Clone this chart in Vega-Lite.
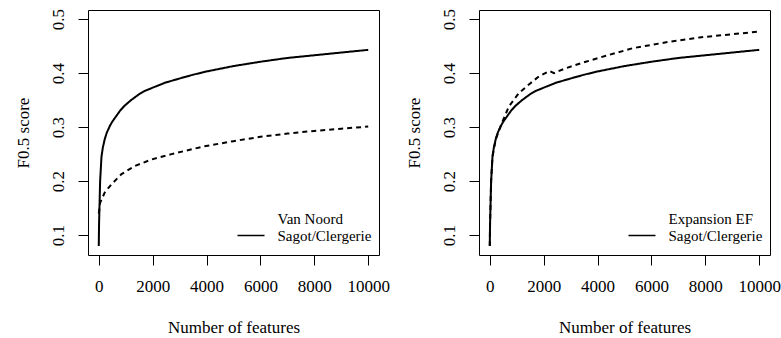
{
  "$schema": "https://vega.github.io/schema/vega-lite/v6.json",
  "background": "white",
  "padding": {"left": 13, "top": 7, "right": 0, "bottom": 0},
  "config": {
    "font": "Liberation Serif",
    "view": {"stroke": "black", "strokeWidth": 1},
    "concat": {"spacing": 100},
    "axis": {"domain": false, "grid": false, "tickColor": "black", "tickSize": 10, "tickWidth": 1, "labelColor": "black", "titleColor": "black", "labelFont": "Liberation Serif", "titleFont": "Liberation Serif", "labelFontSize": 17, "titleFontSize": 17, "titleFontWeight": "normal"},
    "legend": {"labelFont": "Liberation Serif", "labelFontSize": 15, "labelColor": "black", "padding": 0}
  },
  "bounds": "flush",
  "resolve": {"scale": {"strokeDash": "independent", "x": "independent", "y": "independent"}, "legend": {"strokeDash": "independent"}},
  "data": {"values": [
    {"panel": "A", "series": "Sagot/Clergerie", "n": 0, "f": 0.08},
    {"panel": "A", "series": "Sagot/Clergerie", "n": 10, "f": 0.12},
    {"panel": "A", "series": "Sagot/Clergerie", "n": 25, "f": 0.15},
    {"panel": "A", "series": "Sagot/Clergerie", "n": 50, "f": 0.2},
    {"panel": "A", "series": "Sagot/Clergerie", "n": 100, "f": 0.245},
    {"panel": "A", "series": "Sagot/Clergerie", "n": 150, "f": 0.262},
    {"panel": "A", "series": "Sagot/Clergerie", "n": 223, "f": 0.278},
    {"panel": "A", "series": "Sagot/Clergerie", "n": 300, "f": 0.29},
    {"panel": "A", "series": "Sagot/Clergerie", "n": 410, "f": 0.302},
    {"panel": "A", "series": "Sagot/Clergerie", "n": 500, "f": 0.31},
    {"panel": "A", "series": "Sagot/Clergerie", "n": 657, "f": 0.321},
    {"panel": "A", "series": "Sagot/Clergerie", "n": 800, "f": 0.331},
    {"panel": "A", "series": "Sagot/Clergerie", "n": 967, "f": 0.34},
    {"panel": "A", "series": "Sagot/Clergerie", "n": 1200, "f": 0.35},
    {"panel": "A", "series": "Sagot/Clergerie", "n": 1337, "f": 0.355},
    {"panel": "A", "series": "Sagot/Clergerie", "n": 1500, "f": 0.361},
    {"panel": "A", "series": "Sagot/Clergerie", "n": 1708, "f": 0.367},
    {"panel": "A", "series": "Sagot/Clergerie", "n": 2000, "f": 0.373},
    {"panel": "A", "series": "Sagot/Clergerie", "n": 2450, "f": 0.382},
    {"panel": "A", "series": "Sagot/Clergerie", "n": 3000, "f": 0.39},
    {"panel": "A", "series": "Sagot/Clergerie", "n": 3500, "f": 0.397},
    {"panel": "A", "series": "Sagot/Clergerie", "n": 4000, "f": 0.403},
    {"panel": "A", "series": "Sagot/Clergerie", "n": 5000, "f": 0.413},
    {"panel": "A", "series": "Sagot/Clergerie", "n": 6000, "f": 0.421},
    {"panel": "A", "series": "Sagot/Clergerie", "n": 7000, "f": 0.428},
    {"panel": "A", "series": "Sagot/Clergerie", "n": 8000, "f": 0.433},
    {"panel": "A", "series": "Sagot/Clergerie", "n": 9000, "f": 0.438},
    {"panel": "A", "series": "Sagot/Clergerie", "n": 10000, "f": 0.443},
    {"panel": "A", "series": "Van Noord", "n": 0, "f": 0.14},
    {"panel": "A", "series": "Van Noord", "n": 50, "f": 0.16},
    {"panel": "A", "series": "Van Noord", "n": 223, "f": 0.179},
    {"panel": "A", "series": "Van Noord", "n": 470, "f": 0.194},
    {"panel": "A", "series": "Van Noord", "n": 843, "f": 0.213},
    {"panel": "A", "series": "Van Noord", "n": 1337, "f": 0.228},
    {"panel": "A", "series": "Van Noord", "n": 1956, "f": 0.24},
    {"panel": "A", "series": "Van Noord", "n": 2699, "f": 0.25},
    {"panel": "A", "series": "Van Noord", "n": 3874, "f": 0.264},
    {"panel": "A", "series": "Van Noord", "n": 5000, "f": 0.274},
    {"panel": "A", "series": "Van Noord", "n": 6000, "f": 0.282},
    {"panel": "A", "series": "Van Noord", "n": 7000, "f": 0.288},
    {"panel": "A", "series": "Van Noord", "n": 8000, "f": 0.293},
    {"panel": "A", "series": "Van Noord", "n": 9000, "f": 0.297},
    {"panel": "A", "series": "Van Noord", "n": 10000, "f": 0.301},
    {"panel": "B", "series": "Sagot/Clergerie", "n": 0, "f": 0.08},
    {"panel": "B", "series": "Sagot/Clergerie", "n": 10, "f": 0.12},
    {"panel": "B", "series": "Sagot/Clergerie", "n": 25, "f": 0.15},
    {"panel": "B", "series": "Sagot/Clergerie", "n": 50, "f": 0.2},
    {"panel": "B", "series": "Sagot/Clergerie", "n": 100, "f": 0.245},
    {"panel": "B", "series": "Sagot/Clergerie", "n": 150, "f": 0.262},
    {"panel": "B", "series": "Sagot/Clergerie", "n": 223, "f": 0.278},
    {"panel": "B", "series": "Sagot/Clergerie", "n": 300, "f": 0.29},
    {"panel": "B", "series": "Sagot/Clergerie", "n": 410, "f": 0.302},
    {"panel": "B", "series": "Sagot/Clergerie", "n": 500, "f": 0.31},
    {"panel": "B", "series": "Sagot/Clergerie", "n": 657, "f": 0.321},
    {"panel": "B", "series": "Sagot/Clergerie", "n": 800, "f": 0.331},
    {"panel": "B", "series": "Sagot/Clergerie", "n": 967, "f": 0.34},
    {"panel": "B", "series": "Sagot/Clergerie", "n": 1200, "f": 0.35},
    {"panel": "B", "series": "Sagot/Clergerie", "n": 1337, "f": 0.355},
    {"panel": "B", "series": "Sagot/Clergerie", "n": 1500, "f": 0.361},
    {"panel": "B", "series": "Sagot/Clergerie", "n": 1708, "f": 0.367},
    {"panel": "B", "series": "Sagot/Clergerie", "n": 2000, "f": 0.373},
    {"panel": "B", "series": "Sagot/Clergerie", "n": 2450, "f": 0.382},
    {"panel": "B", "series": "Sagot/Clergerie", "n": 3000, "f": 0.39},
    {"panel": "B", "series": "Sagot/Clergerie", "n": 3500, "f": 0.397},
    {"panel": "B", "series": "Sagot/Clergerie", "n": 4000, "f": 0.403},
    {"panel": "B", "series": "Sagot/Clergerie", "n": 5000, "f": 0.413},
    {"panel": "B", "series": "Sagot/Clergerie", "n": 6000, "f": 0.421},
    {"panel": "B", "series": "Sagot/Clergerie", "n": 7000, "f": 0.428},
    {"panel": "B", "series": "Sagot/Clergerie", "n": 8000, "f": 0.433},
    {"panel": "B", "series": "Sagot/Clergerie", "n": 9000, "f": 0.438},
    {"panel": "B", "series": "Sagot/Clergerie", "n": 10000, "f": 0.443},
    {"panel": "B", "series": "Expansion EF", "n": 0, "f": 0.08},
    {"panel": "B", "series": "Expansion EF", "n": 10, "f": 0.12},
    {"panel": "B", "series": "Expansion EF", "n": 25, "f": 0.15},
    {"panel": "B", "series": "Expansion EF", "n": 50, "f": 0.2},
    {"panel": "B", "series": "Expansion EF", "n": 100, "f": 0.245},
    {"panel": "B", "series": "Expansion EF", "n": 223, "f": 0.278},
    {"panel": "B", "series": "Expansion EF", "n": 460, "f": 0.309},
    {"panel": "B", "series": "Expansion EF", "n": 708, "f": 0.338},
    {"panel": "B", "series": "Expansion EF", "n": 1080, "f": 0.363},
    {"panel": "B", "series": "Expansion EF", "n": 1452, "f": 0.379},
    {"panel": "B", "series": "Expansion EF", "n": 1825, "f": 0.394},
    {"panel": "B", "series": "Expansion EF", "n": 2223, "f": 0.404},
    {"panel": "B", "series": "Expansion EF", "n": 2384, "f": 0.4},
    {"panel": "B", "series": "Expansion EF", "n": 2818, "f": 0.409},
    {"panel": "B", "series": "Expansion EF", "n": 3563, "f": 0.421},
    {"panel": "B", "series": "Expansion EF", "n": 4309, "f": 0.432},
    {"panel": "B", "series": "Expansion EF", "n": 5300, "f": 0.446},
    {"panel": "B", "series": "Expansion EF", "n": 6544, "f": 0.457},
    {"panel": "B", "series": "Expansion EF", "n": 7784, "f": 0.466},
    {"panel": "B", "series": "Expansion EF", "n": 9024, "f": 0.472},
    {"panel": "B", "series": "Expansion EF", "n": 10000, "f": 0.477}
  ]},
  "hconcat": [
    {
      "width": 291,
      "height": 245,
      "transform": [{"filter": "datum.panel === 'A'"}],
      "mark": {"type": "line", "color": "black", "strokeWidth": 2, "clip": true},
      "encoding": {
        "x": {"field": "n", "type": "quantitative", "scale": {"domain": [-400, 10400], "nice": false, "zero": false},
              "axis": {"values": [0, 2000, 4000, 6000, 8000, 10000], "format": "d", "title": "Number of features", "labelFont": "Liberation Serif", "titleFont": "Liberation Serif", "labelBaseline": "middle", "labelPadding": 21, "labelFlush": false, "labelOverlap": false, "titleX": 145.5, "titleY": 72.5, "titleBaseline": "middle", "titleAlign": "center"}},
        "y": {"field": "f", "type": "quantitative", "scale": {"domain": [0.0632, 0.5168], "nice": false, "zero": false},
              "axis": {"values": [0.1, 0.2, 0.3, 0.4, 0.5], "format": ".1f", "title": "F0.5 score", "labelFont": "Liberation Serif", "titleFont": "Liberation Serif", "labelAngle": 270, "labelAlign": "center", "labelBaseline": "middle", "labelPadding": 20, "labelFlush": false, "labelOverlap": false, "titleX": -65, "titleY": 122.5, "titleAngle": 270, "titleBaseline": "middle", "titleAlign": "center"}},
        "strokeDash": {"field": "series", "type": "nominal",
              "scale": {"domain": ["Van Noord", "Sagot/Clergerie"], "range": [[5, 4], [1, 0]]},
              "legend": {"title": null, "orient": "none", "legendX": 155.5, "legendY": 201, "symbolType": "M-2.7,0H2.7", "symbolSize": 100, "symbolStrokeColor": "black", "symbolStrokeWidth": 1.5, "labelOffset": 19, "rowPadding": 1, "labelFont": "Liberation Serif",
                         "encode": {"symbols": {"update": {"strokeOpacity": {"signal": "datum.value === 'Sagot/Clergerie' ? 1 : 0"}, "strokeDash": {"value": [1, 0]}}}}}}
      }
    },
    {
      "width": 291,
      "height": 245,
      "transform": [{"filter": "datum.panel === 'B'"}],
      "mark": {"type": "line", "color": "black", "strokeWidth": 2, "clip": true},
      "encoding": {
        "x": {"field": "n", "type": "quantitative", "scale": {"domain": [-400, 10400], "nice": false, "zero": false},
              "axis": {"values": [0, 2000, 4000, 6000, 8000, 10000], "format": "d", "title": "Number of features", "labelFont": "Liberation Serif", "titleFont": "Liberation Serif", "labelBaseline": "middle", "labelPadding": 21, "labelFlush": false, "labelOverlap": false, "titleX": 145.5, "titleY": 72.5, "titleBaseline": "middle", "titleAlign": "center"}},
        "y": {"field": "f", "type": "quantitative", "scale": {"domain": [0.0632, 0.5168], "nice": false, "zero": false},
              "axis": {"values": [0.1, 0.2, 0.3, 0.4, 0.5], "format": ".1f", "title": "F0.5 score", "labelFont": "Liberation Serif", "titleFont": "Liberation Serif", "labelAngle": 270, "labelAlign": "center", "labelBaseline": "middle", "labelPadding": 20, "labelFlush": false, "labelOverlap": false, "titleX": -65, "titleY": 122.5, "titleAngle": 270, "titleBaseline": "middle", "titleAlign": "center"}},
        "strokeDash": {"field": "series", "type": "nominal",
              "scale": {"domain": ["Expansion EF", "Sagot/Clergerie"], "range": [[5, 4], [1, 0]]},
              "legend": {"title": null, "orient": "none", "legendX": 155.5, "legendY": 201, "symbolType": "M-2.7,0H2.7", "symbolSize": 100, "symbolStrokeColor": "black", "symbolStrokeWidth": 1.5, "labelOffset": 19, "rowPadding": 1, "labelFont": "Liberation Serif",
                         "encode": {"symbols": {"update": {"strokeOpacity": {"signal": "datum.value === 'Sagot/Clergerie' ? 1 : 0"}, "strokeDash": {"value": [1, 0]}}}}}}
      }
    }
  ]
}
